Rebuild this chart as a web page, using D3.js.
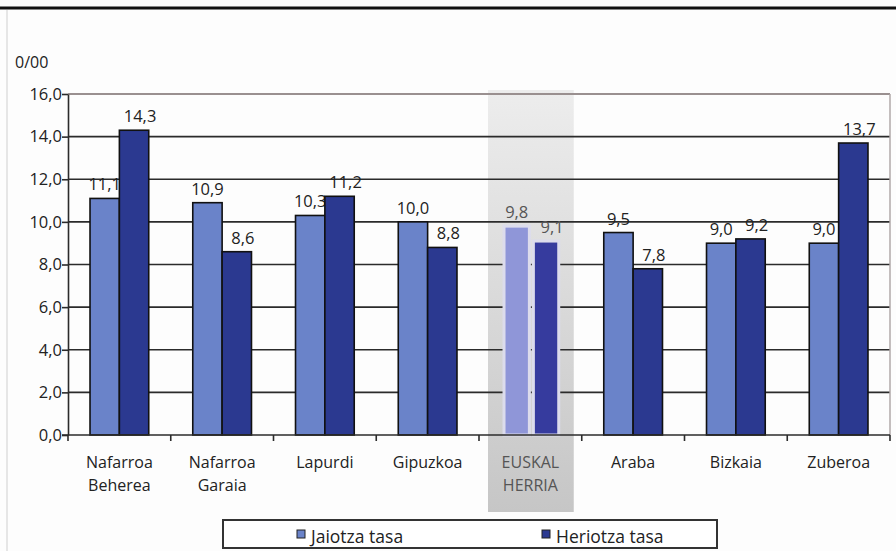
<!DOCTYPE html>
<html>
<head>
<meta charset="utf-8">
<script src="https://cdn.jsdelivr.net/npm/d3@7"></script>
<style>
  body { margin: 0; background: #fdfdfd; }
  text { font-family: "Open Sans", sans-serif; fill: #222; }
</style>
</head>
<body>
<div id="wrapper"></div>
<script>
// data
const categories = [["Nafarroa", "Beherea"], ["Nafarroa", "Garaia"], ["Lapurdi"], ["Gipuzkoa"],
  ["EUSKAL", "HERRIA"], ["Araba"], ["Bizkaia"], ["Zuberoa"]];
const seriesNames = ["Jaiotza tasa", "Heriotza tasa"];
const jaiotza = [11.1, 10.9, 10.3, 10.0, 9.8, 9.5, 9.0, 9.0];
const heriotza = [14.3, 8.6, 11.2, 8.8, 9.1, 7.8, 9.2, 13.7];
const yTicks = [0, 2, 4, 6, 8, 10, 12, 14, 16];
const highlight = 4; // EUSKAL HERRIA

const width = 896, height = 551;
const margin = {left: 68, right: 6, top: 94, bottom: 116};

const svg = d3.select("#wrapper").append("svg")
  .attr("width", width).attr("height", height);

const defs = svg.append("defs");
const grad = defs.append("linearGradient").attr("id", "band")
  .attr("x1", 0).attr("y1", 0).attr("x2", 0).attr("y2", 1);
grad.append("stop").attr("offset", "0%").attr("stop-color", "#ededed");
grad.append("stop").attr("offset", "100%").attr("stop-color", "#c6c6c6");

// frame lines of the page
svg.append("line").attr("x1", 0).attr("x2", width).attr("y1", 8).attr("y2", 8)
  .attr("stroke", "#111").attr("stroke-width", 3);
svg.append("line").attr("x1", 7).attr("x2", 7).attr("y1", 10).attr("y2", height)
  .attr("stroke", "#cfcfcf").attr("stroke-width", 1);

const x0 = d3.scaleBand()
  .domain(d3.range(categories.length))
  .range([margin.left, width - margin.right]);

const x1 = d3.scaleBand()
  .domain([0, 1])
  .range([0, x0.bandwidth()])
  .paddingOuter(0.75);

const y = d3.scaleLinear()
  .domain([0, 16])
  .range([height - margin.bottom, margin.top]);

// highlighted band behind EUSKAL HERRIA
svg.append("rect")
  .attr("x", x0(highlight) + 9)
  .attr("width", x0.bandwidth() - 17)
  .attr("y", margin.top - 4)
  .attr("height", 512 - margin.top + 4)
  .attr("fill", "url(#band)");

// gridlines
svg.selectAll(".grid")
  .data(yTicks.slice(1, -1))
  .enter()
  .append("line")
  .attr("class", "grid")
  .attr("x1", margin.left).attr("x2", width - margin.right)
  .attr("y1", d => y(d)).attr("y2", d => y(d))
  .attr("stroke", "#2b2b2b").attr("stroke-width", 1.6);

// top and right border
svg.append("line")
  .attr("x1", margin.left).attr("x2", width - margin.right)
  .attr("y1", y(16)).attr("y2", y(16))
  .attr("stroke", "#9a9090").attr("stroke-width", 2);
svg.append("line")
  .attr("x1", width - margin.right).attr("x2", width - margin.right)
  .attr("y1", y(16)).attr("y2", y(0))
  .attr("stroke", "#b0a8a8").attr("stroke-width", 1.5);

const fmt = v => d3.format(".1f")(v).replace(".", ",");
const colors = ["#6a83c9", "#2b3990"];
const hiColors = ["#8f96d8", "#363b9e"];

// bars and labels, drawn per category so later bars overlap earlier labels
categories.forEach(function(c, i) {
  const vals = [jaiotza[i], heriotza[i]];
  const g = svg.append("g").attr("transform", "translate(" + x0(i) + ",0)");
  vals.forEach(function(v, s) {
    const isHi = i === highlight;
    let bx = x1(s), bw = x1.bandwidth();
    if (isHi) { bx = bx + 3; bw = bw - 4; }
    g.append("rect")
      .attr("x", bx)
      .attr("width", bw)
      .attr("y", y(v))
      .attr("height", y(0) - y(v))
      .attr("fill", isHi ? hiColors[s] : colors[s])
      .attr("stroke", isHi ? "#dcdcec" : "#111")
      .attr("stroke-width", isHi ? 3 : 1.6);
    g.append("text")
      .attr("x", bx + bw / 2 + (s === 1 ? 6 : 0))
      .attr("y", y(v) - 8)
      .attr("text-anchor", "middle")
      .attr("font-size", 16.5)
      .style("fill", isHi ? "#555" : "#222")
      .text(fmt(v));
  });
});

// y axis
const yAxis = svg.append("g")
  .attr("transform", "translate(" + margin.left + ",0)")
  .call(d3.axisLeft(y).tickValues(yTicks).tickFormat(fmt).tickSize(6).tickSizeOuter(0));
yAxis.select(".domain").attr("stroke", "#2b2b2b").attr("stroke-width", 1.6);
yAxis.selectAll(".tick line").attr("stroke", "#2b2b2b").attr("stroke-width", 1.6);
yAxis.selectAll(".tick text").attr("font-size", 16.5).attr("font-family", null)
  .style("fill", "#222").attr("x", -6);

// x axis
svg.append("line")
  .attr("x1", margin.left - 6).attr("x2", width - margin.right)
  .attr("y1", y(0)).attr("y2", y(0))
  .attr("stroke", "#2b2b2b").attr("stroke-width", 1.6);
svg.selectAll(".xtick")
  .data(d3.range(categories.length + 1))
  .enter()
  .append("line")
  .attr("class", "xtick")
  .attr("x1", d => margin.left + d * x0.bandwidth())
  .attr("x2", d => margin.left + d * x0.bandwidth())
  .attr("y1", y(0)).attr("y2", y(0) + 6)
  .attr("stroke", "#2b2b2b").attr("stroke-width", 1.6);

const catLabels = svg.selectAll(".cat")
  .data(categories)
  .enter()
  .append("text")
  .attr("class", "cat")
  .attr("text-anchor", "middle")
  .attr("font-size", 16)
  .style("fill", (d, i) => i === highlight ? "#555" : "#222");
catLabels.selectAll("tspan")
  .data((d, i) => d.map(t => ({t: t, i: i})))
  .enter()
  .append("tspan")
  .attr("x", d => x0(d.i) + x0.bandwidth() / 2)
  .attr("y", (d, j) => 468 + j * 23)
  .text(d => d.t);

// unit label
svg.append("text")
  .attr("x", 15).attr("y", 68)
  .attr("font-size", 16)
  .text("0/00");

// legend
const legend = svg.append("g");
legend.append("rect")
  .attr("x", 223).attr("y", 520).attr("width", 494).attr("height", 28)
  .attr("fill", "#fff").attr("stroke", "#333").attr("stroke-width", 2);
const legendX = [297, 542];
seriesNames.forEach(function(n, s) {
  legend.append("rect")
    .attr("x", legendX[s]).attr("y", 530).attr("width", 8).attr("height", 8)
    .attr("fill", colors[s]).attr("stroke", "#222").attr("stroke-width", 1);
  legend.append("text")
    .attr("x", legendX[s] + 14).attr("y", 543)
    .attr("font-size", 17.5)
    .text(n);
});
</script>
</body>
</html>
